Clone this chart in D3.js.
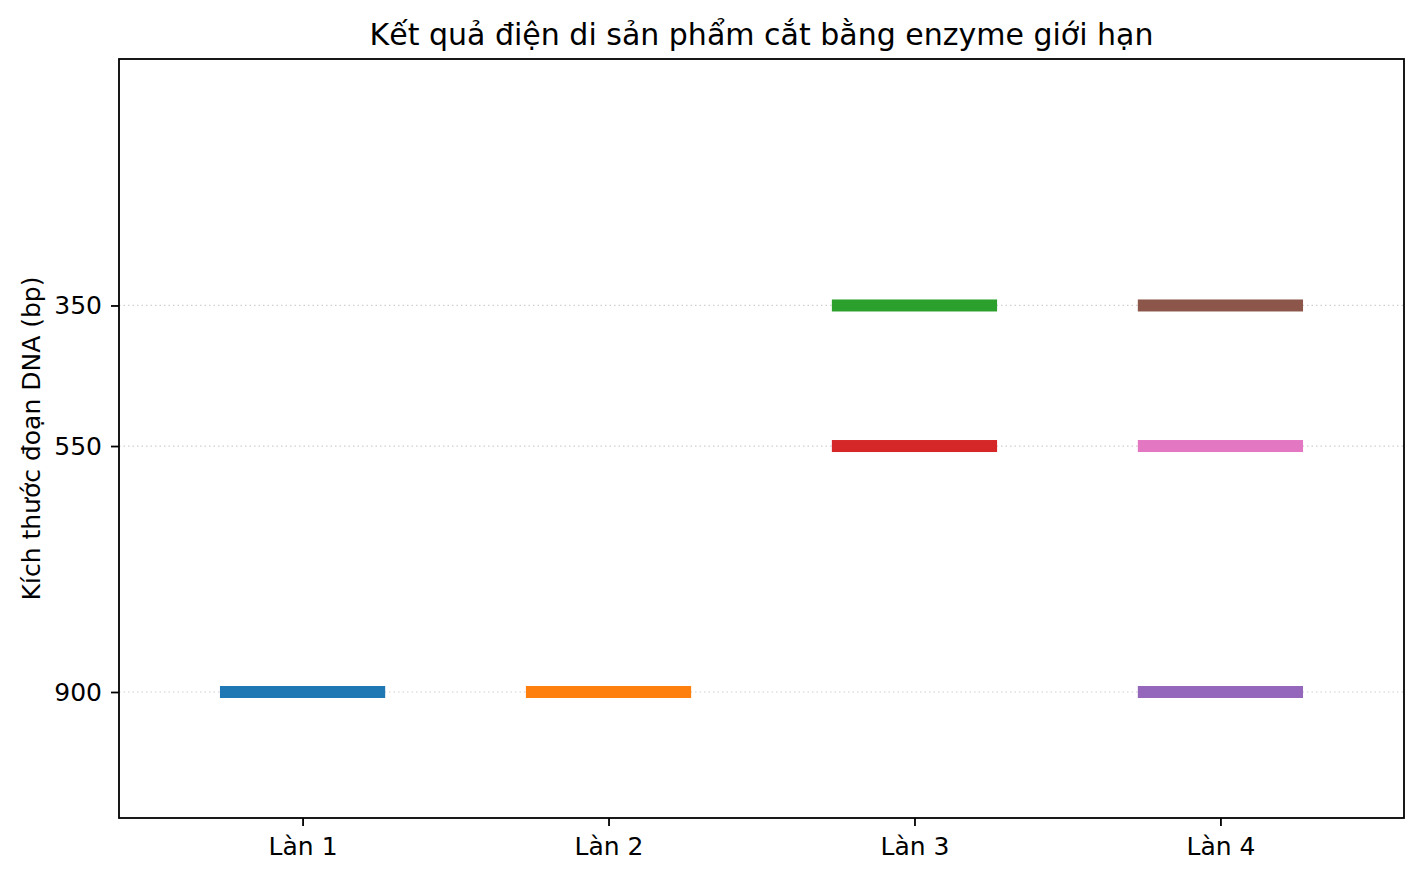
<!DOCTYPE html>
<html>
<head>
<meta charset="utf-8">
<script src="https://cdn.jsdelivr.net/npm/d3@7"></script>
<style>
  body { margin: 0; background: #fff; }
  text { font-family: "DejaVu Sans", sans-serif; }
</style>
</head>
<body>
<div id="main"></div>
<script>
const lanes = ["Làn 1", "Làn 2", "Làn 3", "Làn 4"];
// bands in drawing order: lane index and fragment size (bp)
const bandLane = [0, 1, 2, 2, 3, 3, 3];
const bandSize = [900, 900, 350, 550, 900, 350, 550];
const bandColor = ["#1f77b4", "#ff7f0e", "#2ca02c", "#d62728", "#9467bd", "#8c564b", "#e377c2"];
const yTicks = [350, 550, 900];

const ctx = {
    w: 1421,
    h: 878,
    left: 119,
    right: 1404,
    top: 59,
    bottom: 818,
    BAND_HALF: 0.27,
    BAND_THICK: 12,
    FONT: 25,
};

const x = d3.scaleLinear().domain([-0.6, 3.6]).range([ctx.left, ctx.right]);
const y = d3.scaleLinear().domain([0, 1080]).range([ctx.top, ctx.bottom]);

const svg = d3.select("#main").append("svg")
    .attr("width", ctx.w)
    .attr("height", ctx.h);

// dotted grid at the tick sizes
svg.append("g").selectAll("line")
    .data(yTicks)
    .enter()
    .append("line")
    .attr("x1", ctx.left).attr("x2", ctx.right)
    .attr("y1", d => y(d) + 0.5).attr("y2", d => y(d) + 0.5)
    .attr("stroke", "#d0d0d0")
    .attr("stroke-width", 1.2)
    .attr("stroke-dasharray", "1.5,3");

// bands
svg.append("g").selectAll("rect")
    .data(bandSize)
    .enter()
    .append("rect")
    .attr("x", (d, i) => x(bandLane[i] - ctx.BAND_HALF))
    .attr("width", (d, i) => x(bandLane[i] + ctx.BAND_HALF) - x(bandLane[i] - ctx.BAND_HALF))
    .attr("y", d => y(d) + 0.5 - ctx.BAND_THICK / 2)
    .attr("height", ctx.BAND_THICK)
    .attr("fill", (d, i) => bandColor[i]);

// axes
const xAxis = d3.axisBottom(x)
    .tickValues(d3.range(lanes.length))
    .tickFormat(i => lanes[i])
    .tickSizeInner(8).tickSizeOuter(0).tickPadding(11);
const yAxis = d3.axisLeft(y)
    .tickValues(yTicks)
    .tickSizeInner(8).tickSizeOuter(0).tickPadding(9);

const gx = svg.append("g").attr("transform", `translate(0,${ctx.bottom})`).call(xAxis);
const gy = svg.append("g").attr("transform", `translate(${ctx.left},0.5)`).call(yAxis);
[gx, gy].forEach(g => {
    g.select(".domain").remove();
    g.selectAll(".tick line").attr("stroke", "#000").attr("stroke-width", 1.8);
    g.selectAll(".tick text").attr("fill", "#000").style("font-size", ctx.FONT + "px");
});

// frame
svg.append("rect")
    .attr("x", ctx.left).attr("y", ctx.top)
    .attr("width", ctx.right - ctx.left).attr("height", ctx.bottom - ctx.top)
    .attr("fill", "none")
    .attr("stroke", "#000")
    .attr("stroke-width", 1.8);

svg.append("text")
    .attr("x", (ctx.left + ctx.right) / 2)
    .attr("y", 45)
    .attr("text-anchor", "middle")
    .style("font-size", (ctx.FONT * 1.2) + "px")
    .text("Kết quả điện di sản phẩm cắt bằng enzyme giới hạn");

svg.append("text")
    .attr("transform", `translate(40,${(ctx.top + ctx.bottom) / 2}) rotate(-90)`)
    .attr("text-anchor", "middle")
    .style("font-size", ctx.FONT + "px")
    .text("Kích thước đoạn DNA (bp)");
</script>
</body>
</html>
